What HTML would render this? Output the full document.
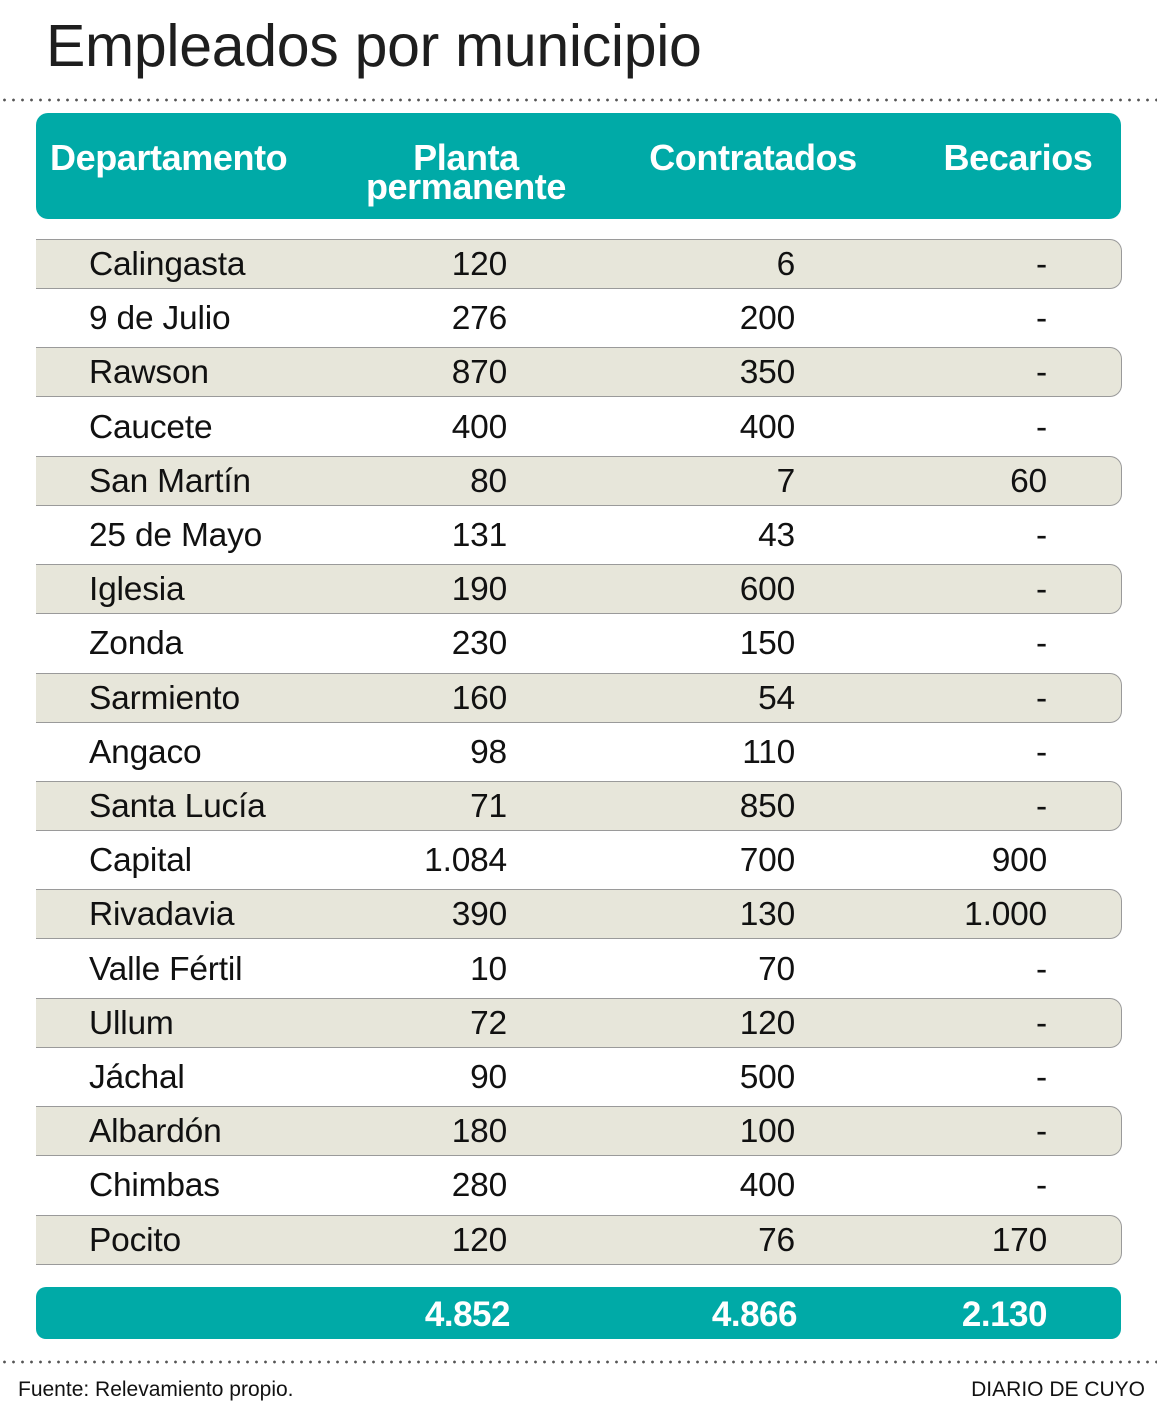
<!DOCTYPE html>
<html><head><meta charset="utf-8"><style>
body{margin:0;width:1157px;height:1414px;background:#fff;position:relative;font-family:"Liberation Sans",Arial,sans-serif;overflow:hidden}
.abs{position:absolute}
.title{left:46px;top:12px;font-size:59px;color:#1e1e1e;letter-spacing:-0.3px}
.dots{left:0;width:1157px;height:4px;background:radial-gradient(circle,#555 1.2px,transparent 1.6px) 0 0/9px 4px repeat-x}
.hdr{left:36px;top:113px;width:1085px;height:106px;background:#00aaa7;border-radius:12px}
.h{color:#fff;font-weight:bold;font-size:36px;line-height:29px;text-align:center;letter-spacing:-0.4px}
.row{left:36px;width:1085px;height:48px;background:#e7e6da;border:1px solid #9a9a9a;border-left:none;border-radius:0 12px 12px 0}
.t{font-size:33.5px;color:#111;line-height:40px;letter-spacing:-0.2px}
.n{text-align:right}
.tot{left:36px;top:1287px;width:1085px;height:52px;background:#00aaa7;border-radius:10px}
.tv{color:#fff;font-weight:bold;font-size:35px;text-align:right;line-height:40px;top:1295px;letter-spacing:-0.5px}
.f{font-size:21px;color:#111;top:1378px}
</style></head><body>
<div class="abs title">Empleados por municipio</div>
<div class="abs dots" style="top:98px"></div>
<div class="abs hdr"></div>
<div class="abs h" style="left:50px;top:143px;text-align:left">Departamento</div>
<div class="abs h" style="left:326px;width:280px;top:143px">Planta<br>permanente</div>
<div class="abs h" style="left:613px;width:280px;top:143px">Contratados</div>
<div class="abs h" style="left:878px;width:280px;top:143px">Becarios</div>
<div id="rows"></div>
<div class="abs tot"></div>
<div class="abs tv" style="left:300px;width:210px">4.852</div>
<div class="abs tv" style="left:587px;width:210px">4.866</div>
<div class="abs tv" style="left:837px;width:210px">2.130</div>
<div class="abs dots" style="top:1360px"></div>
<div class="abs f" style="left:18px">Fuente: Relevamiento propio.</div>
<div class="abs f" style="right:12px">DIARIO DE CUYO</div>
<script>
var d=[["Calingasta","120","6","-"],["9 de Julio","276","200","-"],["Rawson","870","350","-"],["Caucete","400","400","-"],["San Martín","80","7","60"],["25 de Mayo","131","43","-"],["Iglesia","190","600","-"],["Zonda","230","150","-"],["Sarmiento","160","54","-"],["Angaco","98","110","-"],["Santa Lucía","71","850","-"],["Capital","1.084","700","900"],["Rivadavia","390","130","1.000"],["Valle Fértil","10","70","-"],["Ullum","72","120","-"],["Jáchal","90","500","-"],["Albardón","180","100","-"],["Chimbas","280","400","-"],["Pocito","120","76","170"]];
var h="";
d.forEach(function(r,i){var top=239+54.2*i;
if(i%2==0)h+='<div class="abs row" style="top:'+top+'px"></div>';
var ty=top+6;
h+='<div class="abs t" style="left:89px;top:'+ty+'px">'+r[0]+'</div>';
h+='<div class="abs t n" style="left:300px;width:207px;top:'+ty+'px">'+r[1]+'</div>';
h+='<div class="abs t n" style="left:587px;width:208px;top:'+ty+'px">'+r[2]+'</div>';
h+='<div class="abs t n" style="left:837px;width:210px;top:'+ty+'px">'+r[3]+'</div>';});
document.getElementById("rows").innerHTML=h;
</script>
</body></html>
